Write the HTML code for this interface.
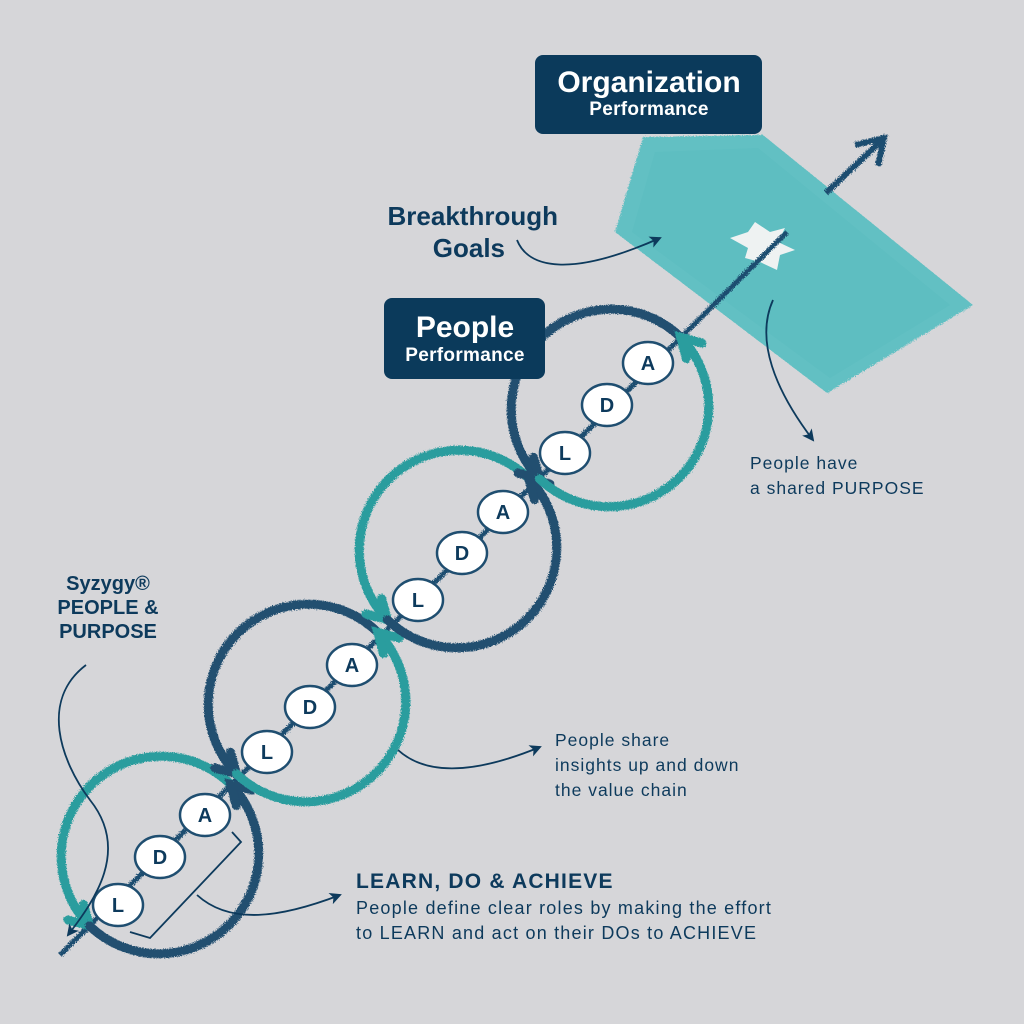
<!DOCTYPE html>
<html><head><meta charset="utf-8"><style>
html,body{margin:0;padding:0;background:#d6d6d9;}
svg{display:block}
text{font-family:"Liberation Sans",sans-serif;}
</style></head><body>
<svg width="1024" height="1024" viewBox="0 0 1024 1024" xmlns="http://www.w3.org/2000/svg">
<defs>
<filter id="rough" x="-10%" y="-10%" width="120%" height="120%">
<feTurbulence type="fractalNoise" baseFrequency="0.9" numOctaves="2" seed="3"/>
<feDisplacementMap in="SourceGraphic" scale="4"/>
</filter>
<marker id="ah" markerWidth="12" markerHeight="12" refX="10" refY="6" orient="auto" markerUnits="userSpaceOnUse">
<path d="M0,0 L12,6 L0,12 L3,6 Z" fill="#0d3a5c"/>
</marker>
</defs>
<rect width="1024" height="1024" fill="#d6d6d9"/>

<!-- teal goal area -->
<polygon points="643,137 763,135 973,305 827,393 615,232" fill="#62c0c3" filter="url(#rough)"/>
<polygon points="655,152 758,148 950,305 830,378 632,232" fill="#5bbcbf" opacity="0.6"/>
<path d="M730,238 L748,232 L755,222 L770,232 L785,228 L778,242 L795,250 L780,255 L777,270 L760,262 L745,258 L748,248 Z" fill="#eef2f2"/>

<!-- main line -->
<g filter="url(#rough)">
<line x1="60" y1="955" x2="787" y2="232" stroke="#1f4e70" stroke-width="5"/>
<line x1="826" y1="193" x2="880" y2="142" stroke="#1f4e70" stroke-width="6"/>
<polyline points="855,145 884,138 878,166" fill="none" stroke="#1f4e70" stroke-width="6"/>
</g>

<!-- circles -->
<g fill="none" stroke-width="9" stroke-linecap="round" filter="url(#rough)">
<path d="M230.7,784.3 A100,100 0 0 0 89.3,925.7" stroke="#2a9d9e"/>
<polyline points="68,920 89.3,925.7 83.6,904.4" stroke="#2a9d9e"/>
<path d="M89.3,925.7 A100,100 0 0 0 230.7,784.3" stroke="#234f70"/>
<polyline points="252,790 230.7,784.3 236.4,805.6" stroke="#234f70"/>
<path d="M377.7,632.3 A100,100 0 0 0 236.3,773.7" stroke="#234f70"/>
<polyline points="215,768 236.3,773.7 230.6,752.4" stroke="#234f70"/>
<path d="M236.3,773.7 A100,100 0 0 0 377.7,632.3" stroke="#2a9d9e"/>
<polyline points="399,638 377.7,632.3 383.4,653.6" stroke="#2a9d9e"/>
<path d="M528.7,478.3 A100,100 0 0 0 387.3,619.7" stroke="#2a9d9e"/>
<polyline points="366,614 387.3,619.7 381.6,598.4" stroke="#2a9d9e"/>
<path d="M387.3,619.7 A100,100 0 0 0 528.7,478.3" stroke="#234f70"/>
<polyline points="550,484 528.7,478.3 534.4,499.6" stroke="#234f70"/>
<path d="M680.7,337.3 A100,100 0 0 0 539.3,478.7" stroke="#234f70"/>
<polyline points="518,473 539.3,478.7 533.6,457.4" stroke="#234f70"/>
<path d="M539.3,478.7 A100,100 0 0 0 680.7,337.3" stroke="#2a9d9e"/>
<polyline points="702,343 680.7,337.3 686.4,358.6" stroke="#2a9d9e"/>
</g>

<!-- nodes -->
<g font-weight="bold" font-size="20" fill="#0d3a5c" text-anchor="middle">
<g stroke="#1f4e70" stroke-width="2.5" fill="#ffffff">
<ellipse cx="118" cy="905" rx="25" ry="21"/><ellipse cx="160" cy="857" rx="25" ry="21"/><ellipse cx="205" cy="815" rx="25" ry="21"/>
<ellipse cx="267" cy="752" rx="25" ry="21"/><ellipse cx="310" cy="707" rx="25" ry="21"/><ellipse cx="352" cy="665" rx="25" ry="21"/>
<ellipse cx="418" cy="600" rx="25" ry="21"/><ellipse cx="462" cy="553" rx="25" ry="21"/><ellipse cx="503" cy="512" rx="25" ry="21"/>
<ellipse cx="565" cy="453" rx="25" ry="21"/><ellipse cx="607" cy="405" rx="25" ry="21"/><ellipse cx="648" cy="363" rx="25" ry="21"/>
</g>
<text x="118" y="912">L</text><text x="160" y="864">D</text><text x="205" y="822">A</text>
<text x="267" y="759">L</text><text x="310" y="714">D</text><text x="352" y="672">A</text>
<text x="418" y="607">L</text><text x="462" y="560">D</text><text x="503" y="519">A</text>
<text x="565" y="460">L</text><text x="607" y="412">D</text><text x="648" y="370">A</text>
</g>

<!-- boxes -->
<rect x="535" y="55" width="227" height="79" rx="8" fill="#0b3a5b"/>
<text x="649" y="92" fill="#fff" font-size="30" font-weight="bold" text-anchor="middle">Organization</text>
<text x="649" y="115" fill="#fff" font-size="19" font-weight="bold" text-anchor="middle" letter-spacing="0.3">Performance</text>
<rect x="384" y="298" width="161" height="81" rx="8" fill="#0b3a5b"/>
<text x="465" y="337" fill="#fff" font-size="30" font-weight="bold" text-anchor="middle">People</text>
<text x="465" y="361" fill="#fff" font-size="19" font-weight="bold" text-anchor="middle" letter-spacing="0.3">Performance</text>

<!-- labels -->
<g fill="#0d3a5c">
<text x="558" y="225" font-size="26" font-weight="bold" text-anchor="end">Breakthrough</text>
<text x="505" y="257" font-size="26" font-weight="bold" text-anchor="end">Goals</text>
<text x="108" y="590" font-size="20" font-weight="bold" text-anchor="middle">Syzygy®</text>
<text x="108" y="614" font-size="20" font-weight="bold" text-anchor="middle">PEOPLE &amp;</text>
<text x="108" y="638" font-size="20" font-weight="bold" text-anchor="middle">PURPOSE</text>
<g font-size="17.5" letter-spacing="1">
<text x="750" y="469">People have</text>
<text x="750" y="494">a shared PURPOSE</text>
<text x="555" y="746">People share</text>
<text x="555" y="771">insights up and down</text>
<text x="555" y="796">the value chain</text>
</g>
<text x="356" y="888" font-size="21" font-weight="bold" letter-spacing="1.2">LEARN, DO &amp; ACHIEVE</text>
<text x="356" y="914" font-size="18" letter-spacing="1.2">People define clear roles by making the effort</text>
<text x="356" y="939" font-size="18" letter-spacing="1.2">to LEARN and act on their DOs to ACHIEVE</text>
</g>

<!-- thin connectors -->
<g fill="none" stroke="#0d3a5c" stroke-width="1.8">
<path d="M517,240 C528,268 570,278 660,238" marker-end="url(#ah)"/>
<path d="M773,300 C755,340 775,390 813,440" marker-end="url(#ah)"/>
<path d="M86,665 C40,700 60,760 90,800 C130,850 95,900 68,935" marker-end="url(#ah)"/>
<path d="M398,750 C420,770 460,780 540,747" marker-end="url(#ah)"/>
<path d="M197,895 C230,925 280,918 340,895" marker-end="url(#ah)"/>
<path d="M232,832 L241,842 L150,938 L130,932"/>
</g>
</svg>
</body></html>
